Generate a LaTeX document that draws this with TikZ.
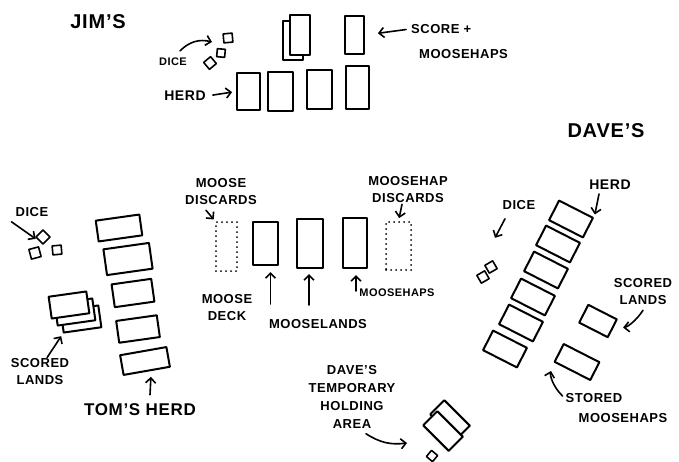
\documentclass[tikz,border=0pt]{standalone}
\usepackage{fontspec}
\setmainfont{Liberation Sans}[LetterSpace=4]
\usetikzlibrary{arrows.meta, positioning, calc}

\begin{document}
\begin{tikzpicture}[
    x=1pt, y=-1pt,
    card/.style={rectangle, draw, line width=2pt, line join=round, fill=white, inner sep=0pt},
    tall/.style={card, minimum width=24pt, minimum height=44pt},
    flat/.style={card, minimum width=42pt, minimum height=23pt},
    pile/.style={rectangle, draw, line width=2pt, dash pattern=on 0pt off 5pt, line cap=round, inner sep=0pt},
    die/.style={rectangle, draw, line width=1.6pt, line join=round, fill=white, minimum size=9pt, inner sep=0pt},
    lbl/.style={font=\bfseries\fontsize{13}{17}\selectfont, align=center, inner sep=1pt},
    small/.style={font=\bfseries\fontsize{11}{13}\selectfont, inner sep=1pt},
    big/.style={font=\bfseries\fontsize{20}{22}\selectfont, inner sep=1pt},
    arr/.style={-{Straight Barb[length=5pt, width=10pt]}, line width=1.6pt, line cap=round}
]
\useasboundingbox (0,0) rectangle (679,461);

% Jim's area
\node[big] (jimlbl) at (98,22) {JIM'S};
\node[tall, minimum width=20pt, minimum height=39pt] (jimdeckb) at (293,40) {};
\node[tall, minimum width=20pt, minimum height=40pt] (jimdeck) at (300,35) {};
\node[tall, minimum width=19pt, minimum height=38pt] (jimscore) at (354.5,35) {};
\node[lbl, anchor=west] (jimscorelbl) at (410,29) {SCORE +};
\node[lbl, anchor=west] (jimscorelbl2) at (418,54) {MOOSEHAPS};
\draw[arr, shorten <=4pt, shorten >=13pt] (jimscorelbl.west) -- (jimscore.east);

\node[die, rotate=5] (jimdie1) at (228,38) {};
\node[die, rotate=-5, minimum size=8pt] (jimdie2) at (221,53) {};
\node[die, rotate=40] (jimdie3) at (210,63) {};
\node[small] (jimdicelbl) at (173,62) {DICE};
\draw[arr] ($(jimdicelbl.north)+(7,-6)$) to[bend left=30] ($(jimdie1.center)+(-16,4)$);

\node[tall, minimum width=23pt, minimum height=37pt] (jimherd1) at (248.5,91.5) {};
\node[tall, minimum width=25pt, minimum height=39pt] (jimherd2) at (280.5,91.5) {};
\node[tall, minimum width=25pt, minimum height=39pt] (jimherd3) at (319.5,89.5) {};
\node[tall, minimum width=23pt, minimum height=43pt] (jimherd4) at (357,87.5) {};
\node[lbl, font=\bfseries\fontsize{14}{17}\selectfont] (jimherdlbl) at (185,96) {HERD};
\draw[arr, shorten <=6pt, shorten >=4pt] (jimherdlbl.east) -- (jimherd1.west);

% Middle: decks and discards
\node[pile, minimum width=21pt, minimum height=49pt] (mdiscpile) at (226.5,246.5) {};
\node[tall, minimum width=25pt, minimum height=43pt] (mdeck) at (265.5,243.5) {};
\node[tall, minimum width=26pt, minimum height=49pt] (mlands) at (310,243.5) {};
\node[tall, minimum width=24pt, minimum height=50pt] (mhaps) at (355,243) {};
\node[pile, minimum width=25pt, minimum height=48pt] (mhdiscpile) at (398.5,246) {};

\node[lbl] (mdisclbl) at (221,192) {MOOSE\\DISCARDS};
\draw[arr, shorten >=2pt] ($(mdisclbl.south west)+(22,4)$) -- (mdiscpile.north west);
\node[lbl] (mhdisclbl) at (408,190) {MOOSEHAP\\DISCARDS};
\draw[arr, shorten >=3pt] ($(mhdisclbl.south)+(-6,0)$) -- (mhdiscpile.north);

\node[lbl] (mdecklbl) at (227,308) {MOOSE\\DECK};
\draw[arr] ($(mdeck.south)+(5,38)$) -- ($(mdeck.south)+(5,6)$);
\node[lbl] (mlandslbl) at (318,324) {MOOSELANDS};
\draw[arr] ($(mlands.south)+(-1,36)$) -- ($(mlands.south)+(-1,5)$);
\node[small] (mhapslbl) at (397,293) {MOOSEHAPS};
\draw[arr] ($(mhaps.south)+(1,22)$) -- ($(mhaps.south)+(1,6)$);

% Tom's area
\node[lbl] (tomdicelbl) at (32,212) {DICE};
\node[die, rotate=45, minimum size=10pt] (tomdie1) at (43,237) {};
\node[die, rotate=15, minimum size=10pt] (tomdie2) at (35,253) {};
\node[die, rotate=5] (tomdie3) at (57,250) {};
\draw[arr, shorten >=4pt] ($(tomdicelbl.south west)+(-3,4)$) -- (tomdie1.west);

\node[flat, rotate=8, minimum width=44pt, minimum height=21pt] (tomherd1) at (119,228) {};
\node[flat, rotate=8, minimum width=46pt, minimum height=26pt] (tomherd2) at (128,259) {};
\node[flat, rotate=8, minimum width=40pt, minimum height=23pt] (tomherd3) at (133,293) {};
\node[flat, rotate=8, minimum width=41pt, minimum height=22pt] (tomherd4) at (138,329) {};
\node[flat, rotate=10, minimum width=47pt, minimum height=20pt] (tomherd5) at (145,361) {};
\node[lbl, font=\bfseries\fontsize{17}{20}\selectfont] (tomherdlbl) at (140,410) {TOM'S HERD};
\draw[arr] ($(tomherdlbl.north)+(10,-8)$) -- ($(tomherd5.south)+(4,5)$);

\node[flat, rotate=8, minimum width=38pt, minimum height=22pt] (tomscored3) at (81,319) {};
\node[flat, rotate=8, minimum width=38pt, minimum height=22pt] (tomscored2) at (75,312) {};
\node[flat, rotate=8, minimum width=38pt, minimum height=22pt] (tomscored1) at (69,305) {};
\node[lbl] (tomscoredlbl) at (40,372) {SCORED\\LANDS};
\draw[arr, shorten >=3pt] ($(tomscoredlbl.north)+(7,0)$) -- (tomscored3.south west);

% Dave's area
\node[big] (davlbl) at (606,131) {DAVE'S};
\node[lbl, font=\bfseries\fontsize{14}{17}\selectfont] (davherdlbl) at (610,185) {HERD};
\foreach \i/\cx/\cy in {1/571/219, 2/558/244, 3/546/270, 4/533/297, 5/521/323, 6/505/349}
  \node[flat, rotate=-27, minimum width=38pt, minimum height=22pt] (davherd\i) at (\cx,\cy) {};
\draw[arr, shorten >=3pt] ($(davherdlbl.south)+(-11,3)$) -- (davherd1.north east);

\node[lbl] (davdicelbl) at (519,205) {DICE};
\node[die, rotate=30] (davdie1) at (483,277) {};
\node[die, rotate=30] (davdie2) at (491,267) {};
\draw[arr] ($(davdicelbl.south)+(-14,8)$) -- ($(davdicelbl.south)+(-24,27)$);

\node[flat, rotate=-27, minimum width=32pt, minimum height=20pt] (davscored) at (598,321) {};
\node[lbl] (davscoredlbl) at (643,292) {SCORED\\LANDS};
\draw[arr, shorten >=10pt] ($(davscoredlbl.south)+(0,4)$) to[bend left=25] (davscored.east);

\node[flat, rotate=-27, minimum width=40pt, minimum height=20pt] (davstored) at (577,362) {};
\node[lbl] (davstoredlbl) at (594,398) {STORED};
\node[lbl] (davstoredlbl2) at (623,418) {MOOSEHAPS};
\draw[arr, shorten >=9pt] ($(davstoredlbl.west)+(-2,-2)$) to[bend left=30] (davstored.south west);

\node[flat, rotate=-45, minimum width=36pt, minimum height=20pt] (davhold2) at (450,420) {};
\node[flat, rotate=-45, minimum width=36pt, minimum height=20pt] (davhold1) at (443,431) {};
\node[die, rotate=-40, minimum size=8pt] (davholddie) at (432,456) {};
\node[lbl, font=\bfseries\fontsize{13}{18}\selectfont] (davholdlbl) at (352,397) {DAVE'S\\TEMPORARY\\HOLDING\\AREA};
\draw[arr] ($(davholdlbl.south)+(14,4)$) to[bend right=20] ($(davhold1.center)+(-36,12)$);

\end{tikzpicture}
\end{document}
